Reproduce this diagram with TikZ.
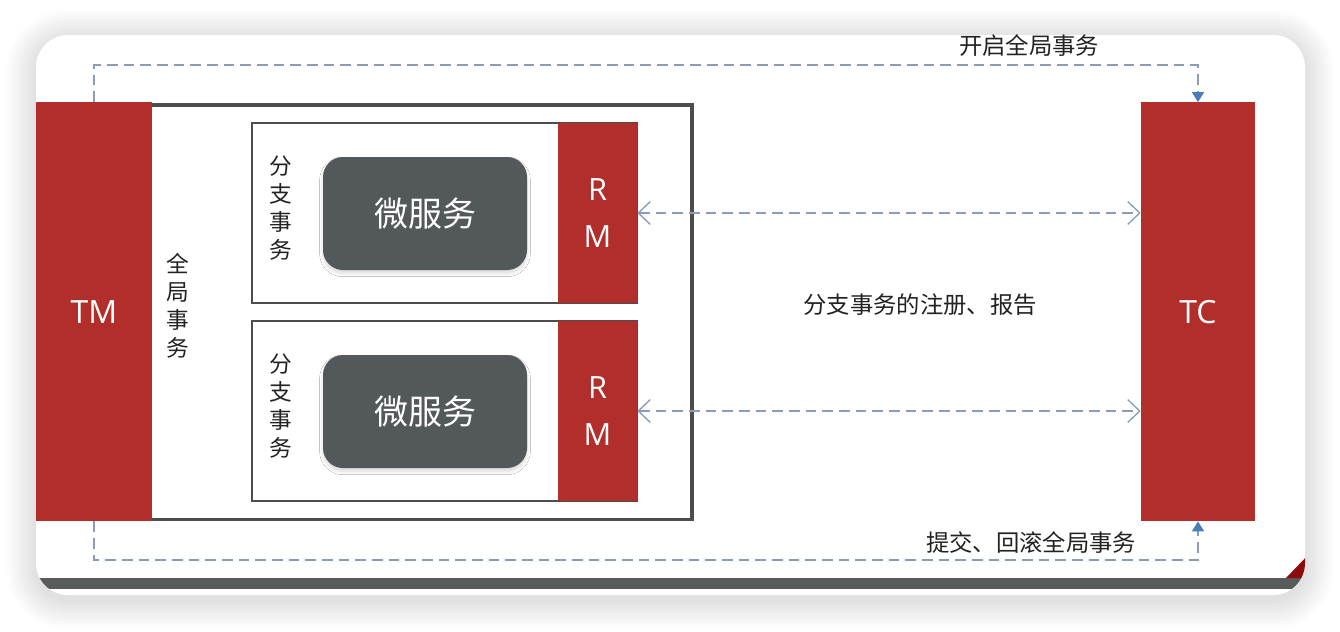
\documentclass[tikz,border=0pt]{standalone}
\usepackage{fontspec}
\setmainfont{Open Sans}
\newfontfamily\cjk{Noto Sans CJK SC}
\usetikzlibrary{arrows.meta,shadows.blur}

\definecolor{brickred}{RGB}{178,46,43}
\definecolor{slategray}{RGB}{83,89,90}
\definecolor{framegray}{RGB}{77,77,77}
\definecolor{dashblue}{RGB}{140,155,182}
\definecolor{tipblue}{RGB}{74,126,187}
\definecolor{inkgray}{RGB}{34,34,34}
\definecolor{bargray}{RGB}{87,91,91}
\definecolor{cornerred}{RGB}{140,12,12}

\tikzset{
  redbox/.style={fill=brickred, draw=none, inner sep=0pt, text=white,
    font=\fontsize{24pt}{28pt}\selectfont},
  rmbox/.style={fill=brickred, draw=none, inner sep=0pt, text=white,
    minimum width=59.25pt, minimum height=135pt, align=center,
    font=\fontsize{23pt}{35pt}\selectfont},
  branchbox/.style={draw=framegray, line width=1.2pt, fill=white,
    minimum width=288.75pt, minimum height=135pt, inner sep=0pt},
  servicebox/.style={fill=slategray, rounded corners=15pt, text=white,
    minimum width=153pt, minimum height=84.75pt, inner sep=0pt,
    font=\cjk\fontsize{25.5pt}{30pt}\selectfont,
    blur shadow={shadow xshift=0pt, shadow yshift=-2.5pt,
      shadow blur radius=2.5pt, shadow blur steps=8, shadow opacity=15}},
  vlabel/.style={align=center, text=inkgray, inner sep=0pt,
    font=\cjk\fontsize{17pt}{21pt}\selectfont},
  plainlabel/.style={text=inkgray, inner sep=0pt,
    font=\cjk\fontsize{17.5pt}{21pt}\selectfont},
  flow/.style={draw=dashblue, line width=1.1pt, dash pattern=on 8pt off 4.5pt},
  filledtip/.style={-{Triangle[width=9pt,length=7.5pt,color=tipblue]}},
  bothbarbs/.style={{Straight Barb[width=17pt,length=9pt,line width=1pt]}-{Straight Barb[width=17pt,length=9pt,line width=1pt]}}
}

\begin{document}
\begin{tikzpicture}[x=0.75pt,y=-0.75pt]
\useasboundingbox (0,0) rectangle (1340,632);
\fill[white] (0,0) rectangle (1340,632);

% soft shadow around the card, built from faint stacked layers
\foreach \i in {1,...,30}{
  \pgfmathsetmacro{\rad}{24+0.75*\i}
  \fill[black, opacity=0.0045, rounded corners=\rad pt]
    (36-\i,35-\i+4) rectangle (1305+\i,595+\i+5);
}
% card
\fill[white, rounded corners=24pt] (36,35) rectangle (1305,595);
\begin{scope}
  \clip[rounded corners=24pt] (36,35) rectangle (1305,595);
  \fill[bargray] (30,578) rectangle (1310,589);
  \fill[cornerred] (1286,578) -- (1310,578) -- (1310,553) -- cycle;
\end{scope}

% global transaction frame
\node[draw=framegray, line width=2.6pt, inner sep=0pt,
  minimum width=406.5pt, minimum height=310.9pt] (global) at (421,312.25) {};

% transaction manager and coordinator
\node[redbox, minimum width=87pt, minimum height=314pt] (tm) at (94,311.75) {TM};
\node[redbox, minimum width=85.5pt, minimum height=314pt] (tc) at (1198,311.75) {TC};

\node[vlabel] (globallabel) at (178,306) {全\\局\\事\\务};

% branch transactions
\node[branchbox] (branch1) at (444.5,213) {};
\node[branchbox] (branch2) at (444.5,411) {};
\node[rmbox] (rm1) at (597.5,213) {R\\M};
\node[rmbox] (rm2) at (597.5,411) {R\\M};
\node[servicebox] (svc1) at (425,213.5) {微服务};
\node[servicebox] (svc2) at (425,411.5) {微服务};
\node[vlabel] (branchlabel1) at (281,208.5) {分\\支\\事\\务};
\node[vlabel] (branchlabel2) at (281,406.5) {分\\支\\事\\务};

% begin / commit-rollback flows
\coordinate (toprail) at (0,65);
\coordinate (bottomrail) at (0,560);
\draw[flow, filledtip] (tm.north) -- (tm.north |- toprail) -| (tc.north);
\draw[flow, filledtip] (tm.south) -- (tm.south |- bottomrail) -| (tc.south);

% registration / report between RMs and TC
\draw[flow, bothbarbs] (rm1.east) -- (rm1.east -| tc.west);
\draw[flow, bothbarbs] (rm2.east) -- (rm2.east -| tc.west);

\node[plainlabel] (beginlabel) at (1029,46) {开启全局事务};
\node[plainlabel] (registerlabel) at (920,305) {分支事务的注册、报告};
\node[plainlabel] (commitlabel) at (1031,543) {提交、回滚全局事务};
\end{tikzpicture}
\end{document}
